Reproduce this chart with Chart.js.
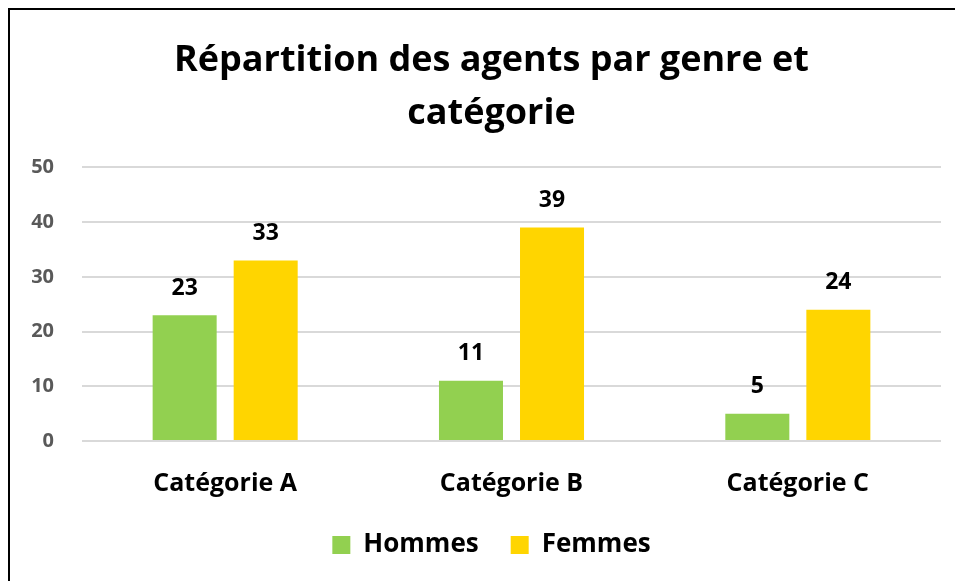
<!DOCTYPE html>
<html><head><meta charset="utf-8">
<script src="https://cdn.jsdelivr.net/npm/chart.js@4/dist/chart.umd.min.js"></script>
<style>
html,body{margin:0;padding:0;background:#fff;}
#wrap{position:absolute;left:0;top:0;width:955px;height:581px;}
#frame{position:absolute;left:8px;top:8px;width:960px;height:600px;border:2px solid #000;box-sizing:border-box;}
</style></head>
<body>
<div id="frame"></div>
<div id="wrap"><canvas id="c" width="955" height="581"></canvas></div>
<script>
const categories = ["Catégorie A", "Catégorie B", "Catégorie C"];
const hommes = [23, 11, 5];
const femmes = [33, 39, 24];
const seriesNames = ["Hommes", "Femmes"];
const titleLines = ["Répartition des agents par genre et", "catégorie"];
const FONT = "'Open Sans', sans-serif";

const valueLabels = {
  id: 'valueLabels',
  afterDatasetsDraw(chart) {
    const ctx = chart.ctx;
    ctx.save();
    ctx.font = "bold 23px " + FONT;
    ctx.fillStyle = "#000";
    ctx.textAlign = "center";
    ctx.textBaseline = "middle";
    chart.data.datasets.forEach((ds, i) => {
      chart.getDatasetMeta(i).data.forEach((bar, j) => {
        ctx.fillText(String(ds.data[j]), bar.x, bar.y - 27);
      });
    });
    ctx.restore();
  }
};

// y tick labels drawn from the library's own y scale (avoids clipping at the scale box)
const yTickLabels = {
  id: 'yTickLabels',
  afterDraw(chart) {
    const ctx = chart.ctx, y = chart.scales.y;
    ctx.save();
    ctx.font = "bold 20px " + FONT;
    ctx.fillStyle = "#595959";
    ctx.textAlign = "right";
    ctx.textBaseline = "middle";
    y.ticks.forEach(t => {
      ctx.fillText(String(t.value), chart.chartArea.left - 28, y.getPixelForValue(t.value));
    });
    ctx.restore();
  }
};

new Chart(document.getElementById('c'), {
  type: 'bar',
  data: {
    labels: categories,
    datasets: [
      { label: seriesNames[0], data: hommes, backgroundColor: '#92D050', barPercentage: 0.79, categoryPercentage: 0.566 },
      { label: seriesNames[1], data: femmes, backgroundColor: '#FFD500', barPercentage: 0.79, categoryPercentage: 0.566 }
    ]
  },
  options: {
    responsive: false,
    animation: false,
    devicePixelRatio: 1,
    layout: { padding: { top: 13, left: 42, right: 14, bottom: 13 } },
    plugins: {
      title: {
        display: true,
        text: titleLines,
        color: '#000',
        font: { family: FONT, size: 36, weight: 'bold', lineHeight: 1.45 },
        padding: { top: 22, bottom: 28 }
      },
      legend: {
        position: 'bottom',
        labels: {
          color: '#000',
          font: { family: FONT, size: 26, weight: 'bold' },
          boxWidth: 18, boxHeight: 18, padding: 5,
          generateLabels(chart) {
            const items = Chart.defaults.plugins.legend.labels.generateLabels(chart);
            items.forEach((it, i) => { if (i < items.length - 1) it.text = it.text + '    '; });
            return items;
          }
        }
      },
      tooltip: { enabled: false }
    },
    scales: {
      x: {
        grid: { display: false, drawTicks: false },
        border: { display: false },
        ticks: { color: '#000', font: { family: FONT, size: 25, weight: 'bold' }, padding: 28 }
      },
      y: {
        min: 0, max: 50,
        afterFit(scale) { scale.width = 40; },
        grid: { color: '#D9D9D9', lineWidth: 2, drawTicks: false },
        border: { display: false },
        ticks: { stepSize: 10, display: false }
      }
    }
  },
  plugins: [valueLabels, yTickLabels]
});
</script>
</body></html>
